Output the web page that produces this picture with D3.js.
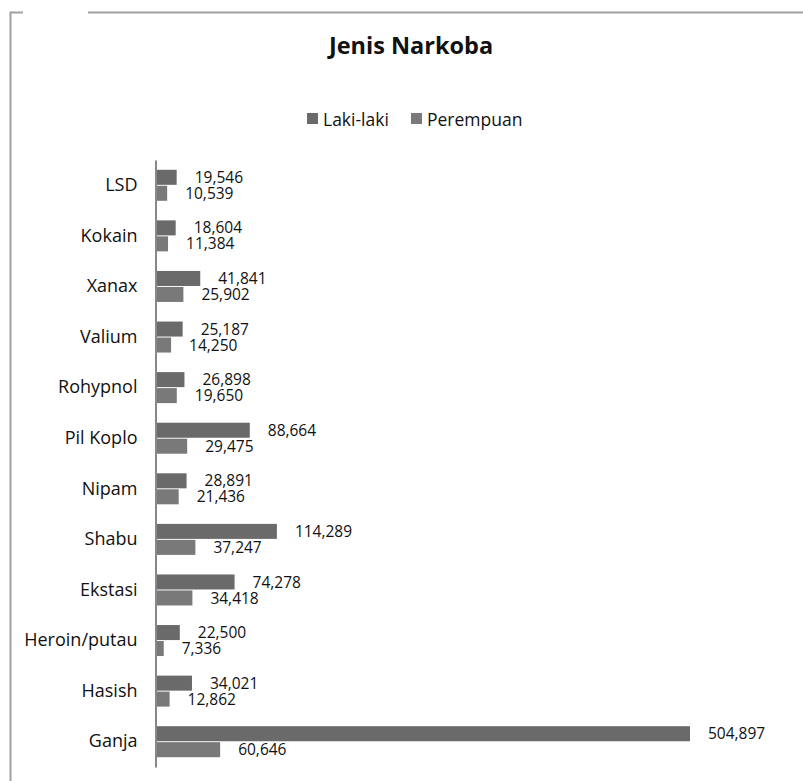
<!DOCTYPE html>
<html>
<head>
<meta charset="utf-8">
<script src="https://cdn.jsdelivr.net/npm/d3@7"></script>
<style>
  html, body { margin: 0; padding: 0; background: #fff; }
  svg { display: block; font-family: "Open Sans", "Noto Sans", sans-serif; }
</style>
</head>
<body>
<svg id="chart" width="803" height="781"></svg>
<script>
const title = "Jenis Narkoba";
const categories = ["LSD", "Kokain", "Xanax", "Valium", "Rohypnol", "Pil Koplo", "Nipam", "Shabu", "Ekstasi", "Heroin/putau", "Hasish", "Ganja"];
const seriesNames = ["Laki-laki", "Perempuan"];
const lakiLaki = [19546, 18604, 41841, 25187, 26898, 88664, 28891, 114289, 74278, 22500, 34021, 504897];
const perempuan = [10539, 11384, 25902, 14250, 19650, 29475, 21436, 37247, 34418, 7336, 12862, 60646];
const seriesColors = ["#6a6a6a", "#797979"];

const svg = d3.select("#chart");

// frame lines
const frame = svg.append("g").attr("stroke", "#a0a0a0").attr("stroke-width", 2).attr("fill", "none");
frame.append("line").attr("x1", 10.5).attr("y1", 12.5).attr("x2", 10.5).attr("y2", 781);
frame.append("line").attr("x1", 9.5).attr("y1", 12.5).attr("x2", 23).attr("y2", 12.5);
frame.append("line").attr("x1", 88).attr("y1", 12.5).attr("x2", 803).attr("y2", 12.5);

// title
svg.append("text").attr("x", 411).attr("y", 54).attr("text-anchor", "middle")
  .attr("font-size", 23.5).attr("font-weight", "bold").attr("fill", "#111").text(title);

// legend
const legendX = [307, 411];
seriesNames.forEach((s, i) => {
  svg.append("rect").attr("x", legendX[i]).attr("y", 113).attr("width", 11).attr("height", 11).attr("fill", seriesColors[i]);
  svg.append("text").attr("x", legendX[i] + 16).attr("y", 125.5).attr("font-size", 17.5).attr("fill", "#111").text(s);
});

const data = categories.map((c, i) => ({ cat: c, vals: [lakiLaki[i], perempuan[i]] }));

const x = d3.scaleLinear().domain([0, 504897]).range([156, 690]);
const y = d3.scaleBand().domain(categories).range([160, 767]);
const y1 = d3.scaleBand().domain(seriesNames).range([0, 31]).paddingInner(0.06);
const off = (y.bandwidth() - 31) / 2;

const groups = svg.append("g").selectAll("g").data(data).join("g")
  .attr("transform", d => `translate(0,${y(d.cat) + off})`);

groups.selectAll("rect").data(d => d.vals.map((v, i) => ({ v, s: seriesNames[i], i })))
  .join("rect")
  .attr("x", x(0))
  .attr("y", d => y1(d.s))
  .attr("width", d => x(d.v) - x(0))
  .attr("height", y1.bandwidth())
  .attr("fill", d => seriesColors[d.i]);

const fmt = d3.format(",");
groups.selectAll("text.val").data(d => d.vals.map((v, i) => ({ v, s: seriesNames[i], i })))
  .join("text").attr("class", "val")
  .attr("x", d => x(d.v) + 18)
  .attr("y", d => y1(d.s) + y1.bandwidth() / 2)
  .attr("dy", "0.36em")
  .attr("font-size", 15.5)
  .attr("fill", "#111")
  .text(d => fmt(d.v));

// axis
const axis = svg.append("g").attr("transform", `translate(155.5,0)`)
  .call(d3.axisLeft(y).tickSize(0).tickPadding(18));
axis.select(".domain").attr("stroke", "#888").attr("stroke-width", 2);
axis.selectAll("text").attr("font-size", 18).attr("fill", "#111").attr("font-family", "\"Open Sans\", sans-serif");
</script>
</body>
</html>
